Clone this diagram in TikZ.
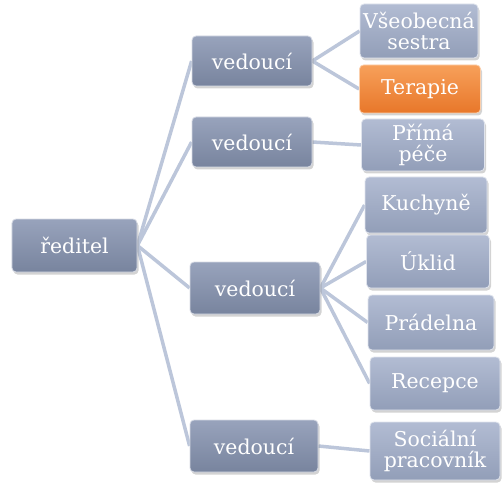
\documentclass[tikz,border=0pt]{standalone}
\usepackage{fontspec}
\setmainfont{DejaVu Serif}
\usetikzlibrary{shadows,backgrounds}
\definecolor{linec}{HTML}{BCC6DA}
\definecolor{boxtop}{HTML}{98A3BC}
\definecolor{boxbot}{HTML}{78849E}
\definecolor{kidtop}{HTML}{B2BCD3}
\definecolor{kidbot}{HTML}{929EB8}
\definecolor{ortop}{HTML}{F7A05A}
\definecolor{orbot}{HTML}{E8772A}
\tikzset{
  base/.style={rounded corners=4bp, text=white, align=center, inner sep=0bp,
    draw=white!60!boxtop, line width=0.8bp,
    drop shadow={shadow xshift=1.5bp, shadow yshift=-2.5bp, opacity=0.35},
    font=\fontsize{20.5}{21}\selectfont},
  boss/.style={base, top color=boxtop, bottom color=boxbot},
  kid/.style={base, top color=kidtop, bottom color=kidbot, draw=white!60!kidtop},
  hot/.style={base, top color=ortop, bottom color=orbot, draw=white!50!ortop},
  conn/.style={draw=linec, line width=3.5bp}
}
\begin{document}
\begin{tikzpicture}[x=1bp,y=-1bp]
\useasboundingbox (0,0) rectangle (504,483);
\node[boss, minimum width=125bp, minimum height=53bp] (r) at (74.5,245.5) {ředitel};
\node[boss, minimum width=120bp, minimum height=50bp] (v1) at (252,61) {vedoucí};
\node[boss, minimum width=120bp, minimum height=50bp] (v2) at (252,142) {vedoucí};
\node[boss, minimum width=130bp, minimum height=52bp] (v3) at (255,288) {vedoucí};
\node[boss, minimum width=128bp, minimum height=52bp] (v4) at (254,446) {vedoucí};
\node[kid, minimum width=118bp, minimum height=54bp] (c1) at (419,31) {Všeobecná\\sestra};
\node[hot, minimum width=121bp, minimum height=48bp] (c2) at (420,89) {Terapie};
\node[kid, minimum width=123bp, minimum height=52bp] (c3) at (423,145) {Přímá\\péče};
\node[kid, minimum width=122bp, minimum height=56bp] (c4) at (426,205) {Kuchyně};
\node[kid, minimum width=123bp, minimum height=53bp] (c5) at (428,261.5) {Úklid};
\node[kid, minimum width=126bp, minimum height=55bp] (c6) at (431,322.5) {Prádelna};
\node[kid, minimum width=130bp, minimum height=53bp] (c7) at (435,383.5) {Recepce};
\node[kid, minimum width=130bp, minimum height=58bp] (c8) at (435,451) {Sociální\\pracovník};
\begin{scope}[on background layer]
\foreach \v in {v1,v2,v3,v4} {\draw[conn] (r.east) -- (\v.west);}
\draw[conn] (v1.east) -- (c1.west);
\draw[conn] (v1.east) -- (c2.west);
\draw[conn] (v2.east) -- (c3.west);
\foreach \c in {c4,c5,c6,c7} {\draw[conn] (v3.east) -- (\c.west);}
\draw[conn] (v4.east) -- (c8.west);
\end{scope}
\end{tikzpicture}
\end{document}
